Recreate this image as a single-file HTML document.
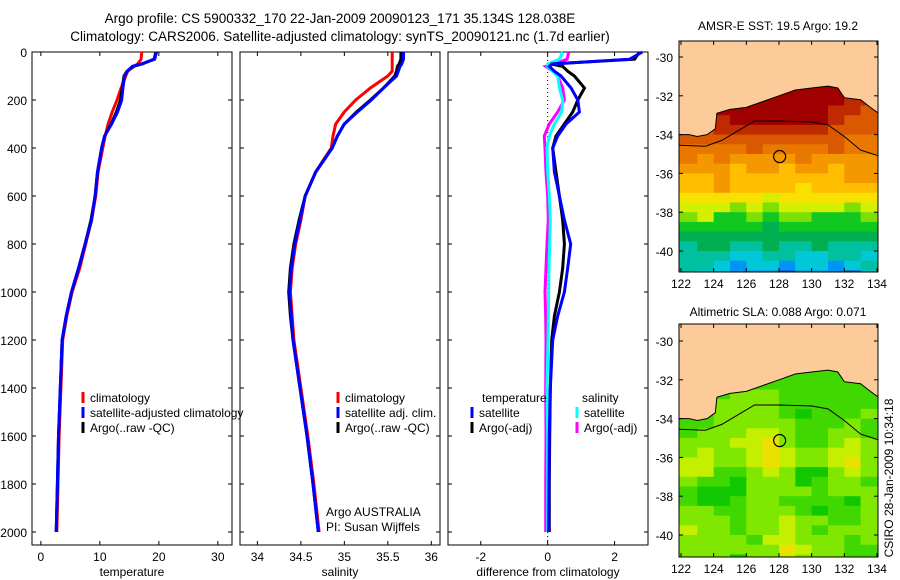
<!DOCTYPE html>
<html><head><meta charset="utf-8"><style>
body{margin:0;background:#fff;}
svg{display:block;font-family:"Liberation Sans",sans-serif;}
text{fill:#000;}
</style></head><body>
<svg id="fig" width="900" height="580" viewBox="0 0 900 580" xmlns="http://www.w3.org/2000/svg">
<rect width="900" height="580" fill="#fff"/>
<text x="340" y="23" font-size="13.5" text-anchor="middle">Argo profile: CS 5900332_170 22-Jan-2009 20090123_171 35.134S 128.038E</text>
<text x="340" y="41" font-size="13.5" text-anchor="middle">Climatology: CARS2006. Satellite-adjusted climatology: synTS_20090121.nc (1.7d earlier)</text>
<text x="778" y="30" font-size="12" text-anchor="middle">AMSR-E SST: 19.5 Argo: 19.2</text>
<text x="778" y="316" font-size="12" text-anchor="middle">Altimetric SLA: 0.088 Argo: 0.071</text>
<text transform="translate(893,478) rotate(-90)" font-size="12" text-anchor="middle">CSIRO 28-Jan-2009 10:34:18</text>
<g id="layer"></g>
</svg>
<script>
// ---- profile data ----
const depths = [0,30,50,60,80,100,150,200,250,300,350,400,500,600,700,800,900,1000,1100,1200,1400,1600,1800,2000];
const tempClim = [17.1,17.0,16.4,15.8,14.7,14.4,13.6,12.9,12.1,11.4,10.9,10.5,9.7,9.3,8.6,7.6,6.6,5.3,4.4,3.7,3.4,3.1,2.9,2.7];
const tempSat  = [19.6,19.3,17.0,15.5,14.7,14.2,13.9,13.7,13.0,12.0,10.8,10.3,9.6,9.2,8.6,7.5,6.4,5.2,4.3,3.6,3.3,3.0,2.8,2.6];
const tempArgo = [19.5,19.2,17.2,15.6,14.6,14.1,13.8,13.5,12.8,11.9,10.8,10.3,9.6,9.2,8.5,7.5,6.4,5.2,4.3,3.6,3.3,3.0,2.8,2.6];
const salClim = [35.55,35.55,35.55,35.55,35.55,35.5,35.3,35.13,35.0,34.9,34.87,34.85,34.67,34.55,34.5,34.44,34.4,34.38,34.4,34.42,34.5,34.58,34.65,34.71];
const salSat  = [35.68,35.68,35.66,35.64,35.62,35.6,35.45,35.31,35.15,35.0,34.92,34.86,34.67,34.55,34.49,34.43,34.39,34.37,34.39,34.41,34.49,34.57,34.64,34.7];
const salArgo = [35.65,35.65,35.63,35.61,35.6,35.58,35.45,35.3,35.14,35.0,34.92,34.86,34.67,34.55,34.48,34.42,34.38,34.36,34.38,34.41,34.49,34.57,34.64,34.7];
const dTSat  = [2.83,2.45,0.12,0.05,0.2,0.4,0.7,0.9,0.95,0.55,0.3,0.15,0.2,0.35,0.5,0.69,0.6,0.5,0.3,0.15,0.08,0.05,0.04,0.03];
const dTArgo = [2.75,2.6,0.1,0.45,0.6,0.8,1.1,0.9,0.75,0.5,0.25,0.15,0.25,0.35,0.45,0.5,0.45,0.35,0.2,0.12,0.08,0.06,0.05,0.05];
const dSArgo = [0.63,0.58,0.2,-0.06,0.15,0.3,0.45,0.5,0.3,0.05,-0.1,-0.08,-0.05,0.0,0.02,-0.02,-0.05,-0.08,-0.06,-0.05,-0.06,-0.05,-0.06,-0.06];
const dSSat  = [0.45,0.35,0.0,0.0,0.15,0.3,0.35,0.45,0.42,0.2,0.05,-0.02,0.0,0.05,0.08,0.06,0.04,0.03,0.02,0.01,-0.02,0.0,0.0,0.0];

// ---- map data (1 deg lon x 0.5 deg lat cells, rows from -31.5 southward) ----
const mapLons = [122,123,124,125,126,127,128,129,130,131,132,133];
const sstGrid = [
"AAAAAAAAAAAA",
"AAAAAAAAAABB",
"AAAAAAAAABBC",
"BBBAAAAAABCC",
"CCBBBBBBBCCC",
"CCCCCCCCCCDD",
"DDDDCDDDDCDD",
"DEDEEEEDEEEE",
"EEEFEEFEEFEE",
"FFEFFFFFFFEE",
"FFEFFFFGFFFF",
"GGGGGHGGGGGG",
"HHHIHIHHHHIH",
"IHJJIJIIJJJI",
"JJJJJKJJJJJJ",
"KKKKKKKKKKKK",
"LKKLLKLLKLLL",
"LLLMMLLMMLLM",
"LLMNMMNMMNML",
"LMMNNNONNNOM"];
const slaGrid = [
"gggggggggggg",
"gggggggggggg",
"ggghhhgggggg",
"gghhhhgggggg",
"gghhhhgkgggh",
"gghhhhhggghg",
"ghhhyyhgghhg",
"hhhyywhgghyh",
"hyhhywyhhyyh",
"yyhhywyhhywh",
"yygghyhkkhyh",
"hggkhhhkghhg",
"gkkkhhhhghhh",
"gkkghhggggkh",
"hhgghhhgkggh",
"hhhghhyhhggh",
"yhhghhyhghhh",
"hhhhgyyhhhgh",
"hhhhhhwyhhgg",
"hhhkhhyhhhgg"];
const sstPalette = {A:"#a00000",B:"#c02a00",C:"#d95800",D:"#ea7800",E:"#f59800",F:"#ffbf00",G:"#f8e000",H:"#d4f000",I:"#7ce000",J:"#10c820",K:"#00b050",L:"#00c0a0",M:"#00c8d8",N:"#0094f4",O:"#0050d0"};
const slaPalette = {k:"#10c800",g:"#40d800",h:"#80e800",y:"#c4f000",w:"#ece000"};
const coastLon = [121.9,122.5,123.0,123.6,124.1,124.2,125.0,126.0,127.0,128.0,129.0,130.0,131.0,131.6,132.0,133.0,133.6,134.1];
const coastLat = [-34.0,-34.0,-34.1,-34.0,-33.7,-32.9,-32.7,-32.6,-32.3,-32.0,-31.7,-31.6,-31.5,-31.6,-32.1,-32.2,-32.6,-32.9];
const contLon = [121.9,123.5,124.5,125.5,126.5,128.0,130.0,131.0,132.0,133.0,134.1];
const contLat = [-34.55,-34.6,-34.3,-33.8,-33.3,-33.3,-33.35,-33.5,-34.1,-34.8,-35.1];
const floatLon = 128.04, floatLat = -35.13;

const NS="http://www.w3.org/2000/svg";
const layer=document.getElementById('layer');
function mk(tag,attrs,parent){const e=document.createElementNS(NS,tag);for(const k in attrs)e.setAttribute(k,attrs[k]);(parent||layer).appendChild(e);return e;}
function txt(s,x,y,size,anchor,parent){const t=mk('text',{x:x,y:y,'font-size':size,'text-anchor':anchor||'middle'},parent);t.textContent=s;return t;}

const yTop=52, yBot=545;
function yD(d){return 52+d*0.24;}
const panels=[
 {x0:32,x1:232,min:-1.5,max:32.4,ticks:[0,10,20,30],labels:["0","10","20","30"],title:"temperature",name:"temperature-panel"},
 {x0:240,x1:440,min:33.8,max:36.1,ticks:[34,34.5,35,35.5,36],labels:["34","34.5","35","35.5","36"],title:"salinity",name:"salinity-panel"},
 {x0:448,x1:648,min:-2.98,max:3.0,ticks:[-2,0,2],labels:["-2","0","2"],title:"difference from climatology",name:"difference-panel"}];
function xs(p,v){return p.x0+(v-p.min)/(p.max-p.min)*(p.x1-p.x0);}

panels.forEach((p,i)=>{
  const g=mk('g',{});
  
  
  mk('rect',{x:p.x0,y:yTop,width:p.x1-p.x0,height:yBot-yTop,fill:'#fff',stroke:'#000','stroke-width':1},g);
  p.ticks.forEach((t,k)=>{const x=xs(p,t);
    mk('line',{x1:x,x2:x,y1:yTop,y2:yTop+4,stroke:'#000'},g);
    mk('line',{x1:x,x2:x,y1:yBot,y2:yBot-4,stroke:'#000'},g);
    const lt=txt(p.labels[k],x,561,12,'middle',g);
    
    
  });
  for(let d=0;d<=2000;d+=200){const y=yD(d);
    mk('line',{x1:p.x0,x2:p.x0+4,y1:y,y2:y,stroke:'#000'},g);
    mk('line',{x1:p.x1,x2:p.x1-4,y1:y,y2:y,stroke:'#000'},g);
    if(i===0){const lt=txt(String(d),27,y+5,12,'end',g);
      
      }
  }
  const at=txt(p.title,(p.x0+p.x1)/2,576,12,'middle',g);
  
  
});

function line(p,vals,color,name){
  const pts=vals.map((v,k)=>xs(p,v).toFixed(1)+','+yD(depths[k]).toFixed(1)).join(' ');
  const l=mk('polyline',{points:pts,fill:'none',stroke:color,'stroke-width':3,'stroke-linejoin':'miter'});
  
  
}
line(panels[0],tempClim,'#ff0000','temp-climatology-line');
line(panels[0],tempArgo,'#000000','temp-argo-line');
line(panels[0],tempSat,'#0000ff','temp-satellite-line');
line(panels[1],salClim,'#ff0000','sal-climatology-line');
line(panels[1],salArgo,'#000000','sal-argo-line');
line(panels[1],salSat,'#0000ff','sal-satellite-line');
const zx=xs(panels[2],0);
mk('line',{x1:zx,x2:zx,y1:yTop,y2:yBot,stroke:'#000','stroke-dasharray':'1,3'});
line(panels[2],dSArgo,'#ff00ff','sal-argo-diff-line');
line(panels[2],dSSat,'#00ffff','sal-satellite-diff-line');
line(panels[2],dTArgo,'#000000','temp-argo-diff-line');
line(panels[2],dTSat,'#0000ff','temp-satellite-diff-line');

function legend(x,y,color,label){
  const g=mk('g',{});
  
  
  if(color) mk('line',{x1:x,x2:x,y1:y-10,y2:y+1,stroke:color,'stroke-width':3},g);
  txt(label,x+7,y,12,'start',g);
}
legend(83,402,'#ff0000','climatology');
legend(83,417,'#0000ff','satellite-adjusted climatology');
legend(83,432,'#000000','Argo(..raw -QC)');
legend(338,402,'#ff0000','climatology');
legend(338,417,'#0000ff','satellite adj. clim.');
legend(338,432,'#000000','Argo(..raw -QC)');
legend(475,402,null,'temperature');
legend(575,402,null,'salinity');
legend(472,417,'#0000ff','satellite');
legend(472,432,'#000000','Argo(-adj)');
legend(577,417,'#00ffff','satellite');
legend(577,432,'#ff00ff','Argo(-adj)');
txt('Argo AUSTRALIA',326,516,12,'start');
txt('PI: Susan Wijffels',326,531,12,'start');

// ---- maps ----
function drawMap(top,bot,lat30y,lat40y,grid,pal,name){
  const x0=679,x1=878;
  const lx=v=>681+(v-122)*16.33;
  const ly=v=>lat30y+(-30-v)*(lat40y-lat30y)/10;
  const g=mk('g',{});
  
  
  const cp=mk('clipPath',{id:'clip'+name},g);
  mk('rect',{x:x0,y:top,width:x1-x0,height:bot-top},cp);
  const gg=mk('g',{'clip-path':'url(#clip'+name+')'},g);
  mk('rect',{x:x0,y:top,width:x1-x0,height:bot-top,fill:'#fccb99'},gg);
  grid.forEach((row,r)=>{
    const latTop=-31.5-r*0.5;
    for(let c=0;c<row.length;c++){
      const ch=row[c]; if(ch==='.')continue;
      const xa=lx(mapLons[c])-(c===0?3:0), xb=lx(mapLons[c]+1)+(c===row.length-1?3:0);
      const cell=mk('rect',{x:xa.toFixed(1),y:ly(latTop).toFixed(1),width:(xb-xa+0.5).toFixed(1),height:(ly(latTop-0.5)-ly(latTop)+0.5).toFixed(1),fill:pal[ch]},gg);
      
    }
  });
  let lp=coastLon.map((v,k)=>lx(v).toFixed(1)+','+ly(coastLat[k]).toFixed(1));
  mk('polygon',{points:lp.join(' ')+' '+(x1+5)+','+(top-5)+' '+(x0-5)+','+(top-5),fill:'#fccb99'},gg);
  mk('polyline',{points:lp.join(' '),fill:'none',stroke:'#000','stroke-width':1},gg);
  const cl=contLon.map((v,k)=>lx(v).toFixed(1)+','+ly(contLat[k]).toFixed(1)).join(' ');
  mk('polyline',{points:cl,fill:'none',stroke:'#000','stroke-width':1},gg);
  const fc=mk('circle',{cx:lx(floatLon),cy:ly(floatLat),r:6,fill:'none',stroke:'#000','stroke-width':1.2},g);
  
  
  mk('rect',{x:x0,y:top,width:x1-x0,height:bot-top,fill:'none',stroke:'#000'},g);
  for(let lon=122;lon<=134;lon+=2){const x=lx(lon);
    mk('line',{x1:x,x2:x,y1:top,y2:top+4,stroke:'#000'},g);
    mk('line',{x1:x,x2:x,y1:bot,y2:bot-4,stroke:'#000'},g);
    txt(String(lon),x,bot+16,12,'middle',g);}
  for(let lat=-30;lat>=-40;lat-=2){const y=ly(lat);
    mk('line',{x1:x0,x2:x0+4,y1:y,y2:y,stroke:'#000'},g);
    mk('line',{x1:x1,x2:x1-4,y1:y,y2:y,stroke:'#000'},g);
    txt(String(lat),x0-6,y+5,12,'end',g);}
}
drawMap(41,272,57,251,sstGrid,sstPalette,'sst-map');
drawMap(324,557,341,535,slaGrid,slaPalette,'sla-map');
</script>
</body></html>
